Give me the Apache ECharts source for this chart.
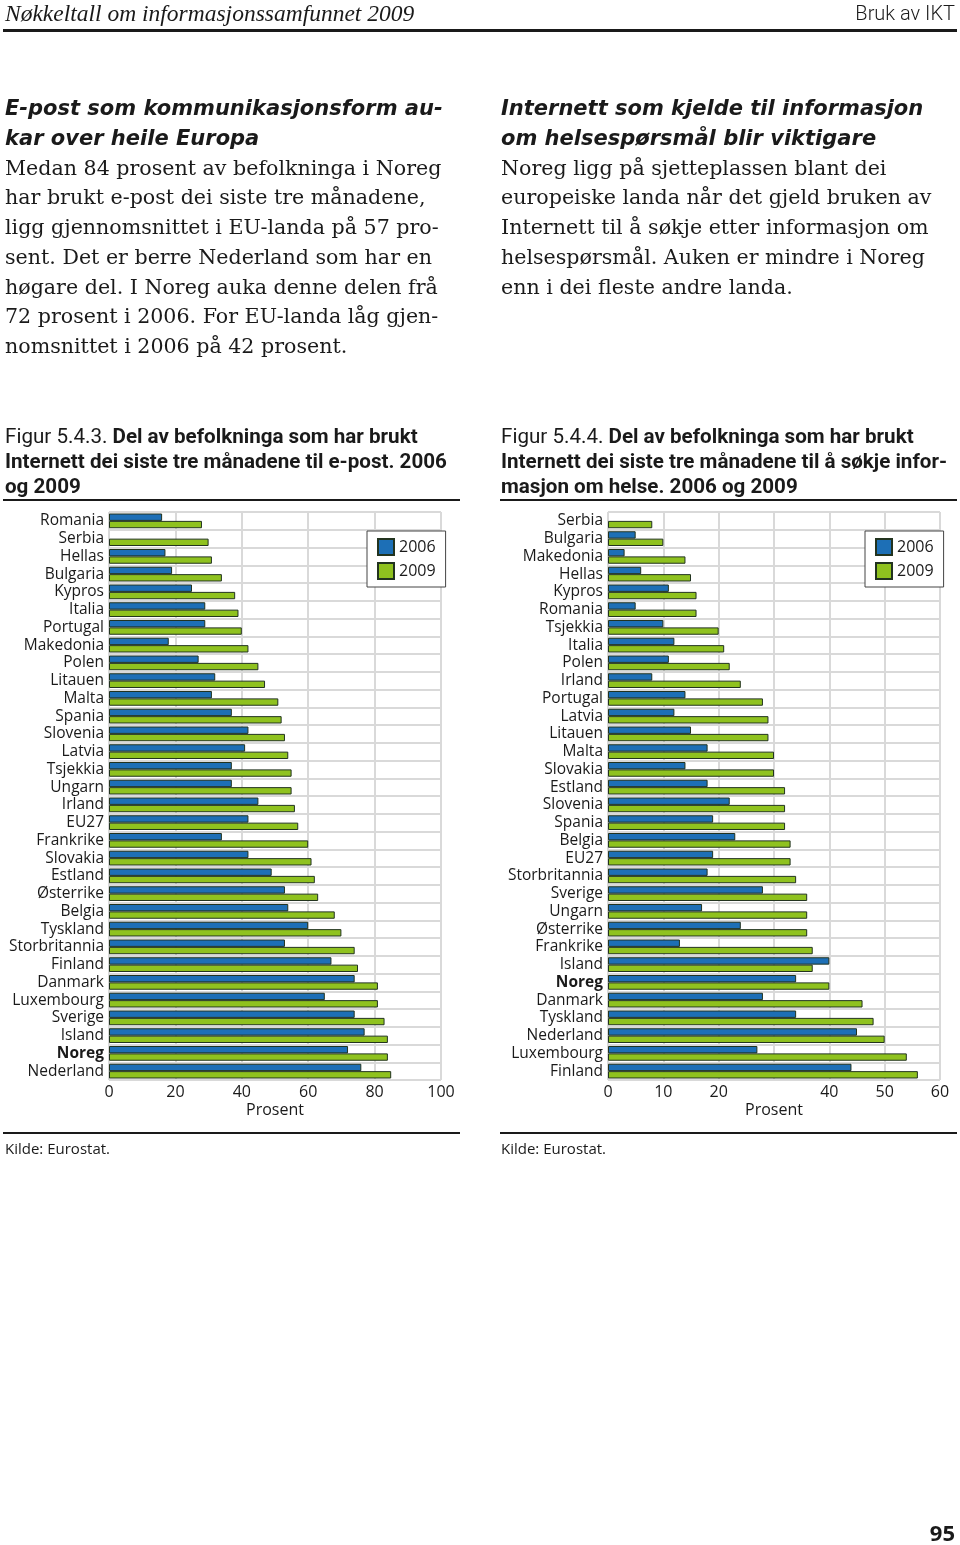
<!DOCTYPE html>
<html>
<head>
<meta charset="utf-8">
<script src="https://cdn.jsdelivr.net/npm/echarts@6/dist/echarts.min.js"></script>
<style>
  html, body { margin:0; padding:0; background:#fff; }
  body { width:960px; height:1545px; position:relative; overflow:hidden; color:#1a1a1a; }
  #chart { position:absolute; left:0; top:0; width:960px; height:1545px; }
  .abs { position:absolute; white-space:nowrap; }
  .hdr { font-family:"Liberation Serif", serif; font-style:italic; font-size:23.5px; line-height:26px; left:5px; top:0; }
  .hdrR { font-family:"Roboto", sans-serif; font-weight:300; font-size:20px; line-height:26px; right:5px; top:0; }
  .rule { position:absolute; background:#1a1a1a; }
  .block { line-height:29.75px; top:94px; }
  .block .h { font-family:"DejaVu Sans", sans-serif; font-weight:bold; font-style:italic; font-size:21px; }
  .block .b { font-family:"DejaVu Serif", serif; font-size:20.6px; }
  .cap { font-family:"Liberation Sans Narrow", "Roboto", sans-serif; font-size:20.6px; line-height:25px; top:424px; }
  .cap b { font-weight:bold; }
  .src { font-family:"Open Sans", sans-serif; font-size:15px; line-height:20px; top:1138px; }
  .pg { font-family:"Open Sans", sans-serif; font-weight:bold; font-size:22px; line-height:26px; right:5px; top:1519px; }
</style>
</head>
<body>
<div id="chart"></div>
<div class="abs hdr">Nøkkeltall om informasjonssamfunnet 2009</div>
<div class="abs hdrR">Bruk av IKT</div>
<div class="rule" style="left:3px; top:29px; width:954px; height:3px;"></div>

<div class="abs block" style="left:5px;">
  <div class="h">E-post som kommunikasjonsform au-</div>
  <div class="h">kar over heile Europa</div>
  <div class="b">Medan 84 prosent av befolkninga i Noreg</div>
  <div class="b">har brukt e-post dei siste tre månadene,</div>
  <div class="b">ligg gjennomsnittet i EU-landa på 57 pro-</div>
  <div class="b">sent. Det er berre Nederland som har en</div>
  <div class="b">høgare del. I Noreg auka denne delen frå</div>
  <div class="b">72 prosent i 2006. For EU-landa låg gjen-</div>
  <div class="b">nomsnittet i 2006 på 42 prosent.</div>
</div>
<div class="abs block" style="left:501px;">
  <div class="h">Internett som kjelde til informasjon</div>
  <div class="h">om helsespørsmål blir viktigare</div>
  <div class="b">Noreg ligg på sjetteplassen blant dei</div>
  <div class="b">europeiske landa når det gjeld bruken av</div>
  <div class="b">Internett til å søkje etter informasjon om</div>
  <div class="b">helsespørsmål. Auken er mindre i Noreg</div>
  <div class="b">enn i dei fleste andre landa.</div>
</div>

<div class="abs cap" style="left:5px;">
  <div>Figur 5.4.3. <b>Del av befolkninga som har brukt</b></div>
  <div><b>Internett dei siste tre månadene til e-post. 2006</b></div>
  <div><b>og 2009</b></div>
</div>
<div class="abs cap" style="left:501px;">
  <div>Figur 5.4.4. <b>Del av befolkninga som har brukt</b></div>
  <div><b>Internett dei siste tre månadene til å søkje infor-</b></div>
  <div><b>masjon om helse. 2006 og 2009</b></div>
</div>
<div class="rule" style="left:3px; top:499px; width:457px; height:1.5px;"></div>
<div class="rule" style="left:500px; top:499px; width:457px; height:1.5px;"></div>

<div class="rule" style="left:3px; top:1132px; width:457px; height:1.5px;"></div>
<div class="rule" style="left:500px; top:1132px; width:457px; height:1.5px;"></div>
<div class="abs src" style="left:5px;">Kilde: Eurostat.</div>
<div class="abs src" style="left:501px;">Kilde: Eurostat.</div>
<div class="abs pg">95</div>

<script>
// ---- Data ----
const catsEpost = ['Romania','Serbia','Hellas','Bulgaria','Kypros','Italia','Portugal','Makedonia','Polen','Litauen','Malta','Spania','Slovenia','Latvia','Tsjekkia','Ungarn','Irland','EU27','Frankrike','Slovakia','Estland','Østerrike','Belgia','Tyskland','Storbritannia','Finland','Danmark','Luxembourg','Sverige','Island','Noreg','Nederland'];
const epost2006 = [16, null, 17, 19, 25, 29, 29, 18, 27, 32, 31, 37, 42, 41, 37, 37, 45, 42, 34, 42, 49, 53, 54, 60, 53, 67, 74, 65, 74, 77, 72, 76];
const epost2009 = [28, 30, 31, 34, 38, 39, 40, 42, 45, 47, 51, 52, 53, 54, 55, 55, 56, 57, 60, 61, 62, 63, 68, 70, 74, 75, 81, 81, 83, 84, 84, 85];

const catsHelse = ['Serbia','Bulgaria','Makedonia','Hellas','Kypros','Romania','Tsjekkia','Italia','Polen','Irland','Portugal','Latvia','Litauen','Malta','Slovakia','Estland','Slovenia','Spania','Belgia','EU27','Storbritannia','Sverige','Ungarn','Østerrike','Frankrike','Island','Noreg','Danmark','Tyskland','Nederland','Luxembourg','Finland'];
const helse2006 = [null, 5, 3, 6, 11, 5, 10, 12, 11, 8, 14, 12, 15, 18, 14, 18, 22, 19, 23, 19, 18, 28, 17, 24, 13, 40, 34, 28, 34, 45, 27, 44];
const helse2009 = [8, 10, 14, 15, 16, 16, 20, 21, 22, 24, 28, 29, 29, 30, 30, 32, 32, 32, 33, 33, 34, 36, 36, 36, 37, 37, 40, 46, 48, 50, 54, 56];

const ticksEpost = ['0','20','40','60','80','100'];
const ticksHelse = ['0','10','20','','40','50','60'];
const seriesNames = ['2006','2009'];
const axisTitle = 'Prosent';

// ---- Styles ----
const FONT = '"Open Sans", sans-serif';
const TXT = '#1a1a1a';
const GRIDC = '#d9d9d9';
const BLUE = '#1d6fb6';
const GREEN = '#8fc21f';
const BORDER = '#22331f';

function yAxisFor(cats, gi) {
  return {
    type: 'category', gridIndex: gi, data: cats, inverse: true,
    axisLine: { show: false }, axisTick: { show: false },
    splitLine: { show: true, interval: 0, lineStyle: { color: GRIDC, width: 2 } },
    axisLabel: {
      interval: 0, margin: 5, color: TXT, fontFamily: FONT, fontSize: 15.5,
      formatter: v => v === 'Noreg' ? '{b|' + v + '}' : v,
      rich: { b: { fontWeight: 'bold', fontFamily: FONT, fontSize: 15.5, color: TXT } }
    }
  };
}
function xAxisFor(max, step, ticks, gi) {
  return {
    type: 'value', gridIndex: gi, min: 0, max: max, interval: step,
    axisLine: { show: false }, axisTick: { show: false },
    splitLine: { show: true, lineStyle: { color: GRIDC, width: 2 } },
    axisLabel: { margin: 4, color: TXT, fontFamily: FONT, fontSize: 16,
      formatter: v => ticks[Math.round(v / step)] },
    name: axisTitle, nameLocation: 'middle', nameGap: 22,
    nameTextStyle: { color: TXT, fontFamily: FONT, fontSize: 16 }
  };
}
function barSeries(name, data, gi, color) {
  return {
    type: 'bar', name: name, data: data, xAxisIndex: gi, yAxisIndex: gi,
    barGap: '0%', barCategoryGap: '17%',
    itemStyle: { color: color, borderColor: BORDER, borderWidth: 1 },
    silent: true
  };
}
function legendAt(left) {
  return {
    data: seriesNames, left: left, top: 531, orient: 'vertical',
    icon: 'rect', itemWidth: 16, itemHeight: 16, itemGap: 6,
    padding: [7, 10, 7, 10], borderColor: '#444', borderWidth: 1,
    backgroundColor: '#fff', selectedMode: false,
    textStyle: { color: TXT, fontFamily: FONT, fontSize: 16 }
  };
}

const chart = echarts.init(document.getElementById('chart'), null, { renderer: 'canvas' });
chart.setOption({
  animation: false,
  textStyle: { fontFamily: FONT },
  grid: [
    { left: 109, top: 512, width: 332, height: 568, containLabel: false },
    { left: 608, top: 512, width: 332, height: 568, containLabel: false }
  ],
  xAxis: [ xAxisFor(100, 20, ticksEpost, 0), xAxisFor(60, 10, ticksHelse, 1) ],
  yAxis: [ yAxisFor(catsEpost, 0), yAxisFor(catsHelse, 1) ],
  legend: [ legendAt(367), legendAt(865) ],
  series: [
    barSeries(seriesNames[0], epost2006, 0, BLUE),
    barSeries(seriesNames[1], epost2009, 0, GREEN),
    barSeries(seriesNames[0], helse2006, 1, BLUE),
    barSeries(seriesNames[1], helse2009, 1, GREEN)
  ]
});
</script>
</body>
</html>
